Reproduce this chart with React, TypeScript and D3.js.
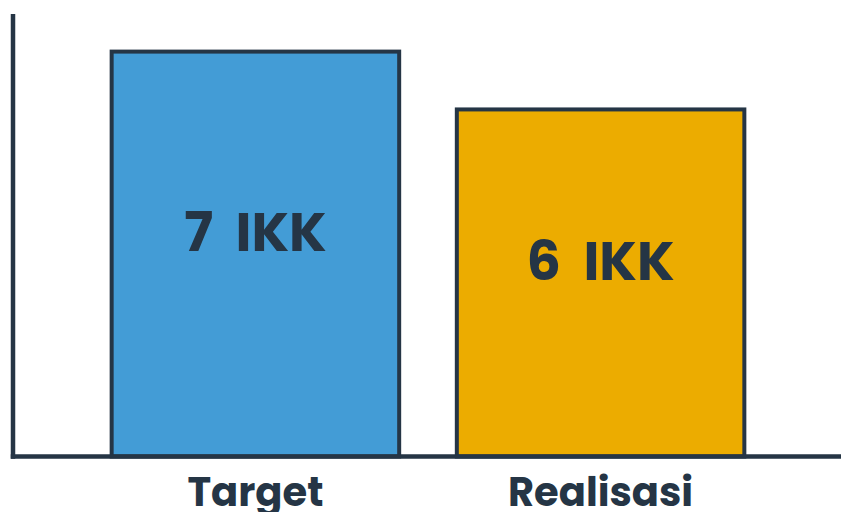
import { useEffect, useRef } from "react";
import * as d3 from "d3";

const categories = ["Target", "Realisasi"];
const values = [7, 6];
const valueLabels = ["7 IKK", "6 IKK"];
const barColors = ["#439CD6", "#ECAC00"];

const W = 841;
const H = 512;
const INK = "#253545";
const FONT = "Poppins, 'Open Sans', sans-serif";

export default function App() {
  const svgRef = useRef<SVGSVGElement>(null);

  useEffect(() => {
    const svg = svgRef.current;
    if (!svg) return;
    const sel = d3.select(svg);
    sel.selectAll("*").remove();

    const baseline = 456.5;
    const axisX = 13;

    const x = d3
      .scaleBand<string>()
      .domain(categories)
      .range([15, W])
      .paddingInner(0.167)
      .paddingOuter(0.28);

    const y = d3.scaleLinear().domain([0, 7.65]).range([baseline, 14]);

    const rows = categories.map((c, i) => ({
      cat: c,
      value: values[i],
      label: valueLabels[i],
      color: barColors[i],
    }));

    // bars
    sel
      .append("g")
      .selectAll("rect")
      .data(rows)
      .enter()
      .append("rect")
      .attr("x", (d) => x(d.cat) || 0)
      .attr("y", (d) => y(d.value))
      .attr("width", x.bandwidth())
      .attr("height", (d) => y(0) - y(d.value))
      .attr("fill", (d) => d.color)
      .attr("stroke", INK)
      .attr("stroke-width", 4);

    // value labels inside bars
    sel
      .append("g")
      .selectAll("text")
      .data(rows)
      .enter()
      .append("text")
      .attr("x", (d) => (x(d.cat) || 0) + x.bandwidth() / 2)
      .attr("y", (d) => y(d.value / 2) - 3)
      .attr("text-anchor", "middle")
      .attr("font-family", FONT)
      .attr("font-weight", 700)
      .attr("font-size", 54)
      .style("word-spacing", "11px")
      .attr("fill", INK)
      .text((d) => d.label);

    // axes (lines only)
    sel
      .append("line")
      .attr("x1", axisX)
      .attr("x2", axisX)
      .attr("y1", y.range()[1])
      .attr("y2", baseline + 2.25)
      .attr("stroke", INK)
      .attr("stroke-width", 4.5);

    sel
      .append("line")
      .attr("x1", axisX - 2.25)
      .attr("x2", W)
      .attr("y1", baseline)
      .attr("y2", baseline)
      .attr("stroke", INK)
      .attr("stroke-width", 4.5);

    // category labels
    sel
      .append("g")
      .selectAll("text")
      .data(rows)
      .enter()
      .append("text")
      .attr("x", (d) => (x(d.cat) || 0) + x.bandwidth() / 2)
      .attr("y", 506)
      .attr("text-anchor", "middle")
      .attr("font-family", FONT)
      .attr("font-weight", 700)
      .attr("font-size", 40)
      .attr("fill", INK)
      .text((d) => d.cat);
  }, []);

  return (
    <svg
      ref={svgRef}
      width={W}
      height={H}
      style={{ position: "absolute", left: 0, top: 0, display: "block", background: "#fff" }}
    />
  );
}
